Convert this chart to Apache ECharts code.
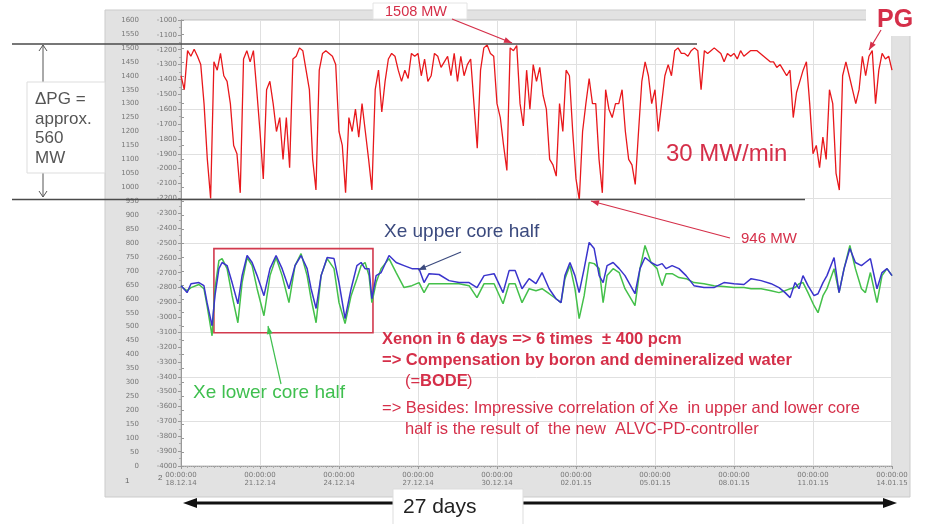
<!DOCTYPE html>
<html><head><meta charset="utf-8">
<script src="https://cdn.jsdelivr.net/npm/echarts@6/dist/echarts.min.js"></script>
<style>html,body{margin:0;padding:0;background:#fff}#c{width:932px;height:524px}</style>
</head><body><div id="c"></div>
<script>
// ---- data ----
const xTickLabels = ['00:00:00\n18.12.14','00:00:00\n21.12.14','00:00:00\n24.12.14','00:00:00\n27.12.14','00:00:00\n30.12.14','00:00:00\n02.01.15','00:00:00\n05.01.15','00:00:00\n08.01.15','00:00:00\n11.01.15','00:00:00\n14.01.15'];
const pgStepDays = 0.125; // one PG sample every 3 h
const pgMW = [
1400,1350,1490,1470,1495,1470,1440,1300,1100,960,
1450,1420,1480,1400,1380,1300,1150,1120,980,1460,
1490,1450,1490,1350,1200,1030,1350,1380,1300,1200,
1250,1100,1250,1070,1460,1470,1500,1490,1420,1350,
1100,990,1420,1480,1490,1480,1470,1440,1200,1150,
980,1250,1200,1280,1180,1300,1200,1100,990,1350,
1420,1270,1380,1460,1480,1470,1420,1380,1420,1390,
1480,1470,1480,1400,1460,1380,1400,1480,1470,1430,
1450,1470,1400,1480,1380,1470,1400,1440,1460,1300,
1140,1420,1500,1510,1480,1470,1300,1250,1150,1060,
1500,1490,1508,1300,1220,1420,1280,1440,1380,1430,
1330,1280,1100,1080,1040,1300,1200,1420,1400,1200,
1030,955,1200,1300,1390,1300,1300,1100,980,1350,
1280,1250,1300,1300,1350,1200,1100,1080,1010,1200,
1380,1450,1400,1300,1350,1200,1300,1400,1440,1400,
1490,1500,1480,1480,1470,1490,1500,1490,1350,1490,
1480,1490,1500,1490,1480,1450,1480,1470,1480,1460,
1490,1470,1480,1490,1490,1490,1480,1470,1460,1450,
1450,1430,1440,1420,1400,1420,1250,1340,1380,1420,
1450,1300,1120,1150,1070,1180,1100,1350,1300,1050,
990,1400,1450,1400,1350,1300,1350,1470,1400,1470,
1490,1300,1420,1480,1460,1470,1420];
const xeDays = [0,0.11,0.23,0.38,0.68,0.87,0.99,1.18,1.29,1.44,1.56,1.75,1.94,2.16,2.32,2.51,2.70,2.89,3.15,3.38,3.61,3.84,4.10,4.33,4.56,4.79,4.94,5.13,5.32,5.55,5.81,6.00,6.23,6.46,6.68,6.84,6.99,7.14,7.25,7.41,7.60,7.90,8.17,8.47,8.77,9.04,9.23,9.42,9.80,10.18,10.56,10.94,11.24,11.51,11.89,12.23,12.46,12.69,12.95,13.22,13.48,13.71,13.98,14.24,14.43,14.58,14.77,14.96,15.12,15.31,15.50,15.69,15.88,16.03,16.18,16.41,16.64,16.86,17.24,17.43,17.62,17.85,18.08,18.15,18.27,18.42,18.65,18.91,19.18,19.48,19.86,20.24,20.62,21.00,21.38,21.65,22.03,22.41,22.71,22.94,23.13,23.32,23.47,23.62,23.81,24.04,24.19,24.38,24.53,24.80,24.99,25.18,25.40,25.61,25.84,25.99,26.18,26.43,26.62,26.81,27.00];
const xeUpper = [647,636,622,654,658,647,586,503,611,708,730,719,658,582,683,755,730,683,611,708,755,708,636,719,755,708,636,565,683,748,744,658,529,636,719,730,708,708,600,683,694,755,730,719,708,708,658,690,687,665,658,658,640,683,690,622,701,701,636,672,654,694,636,600,586,683,730,683,622,708,802,780,683,658,719,730,708,683,618,708,748,730,719,719,726,708,719,708,683,647,640,640,658,654,651,672,665,654,640,622,604,658,636,683,647,611,618,658,683,748,622,708,780,730,719,730,744,636,694,708,683];
const xeLower = [647,636,629,640,651,636,575,467,636,737,744,708,611,514,658,748,719,636,539,683,748,683,586,719,762,683,600,514,683,744,708,586,511,611,672,719,730,683,586,658,708,744,694,640,647,658,622,654,654,654,654,647,604,654,654,582,654,654,586,636,629,636,618,600,586,672,719,636,529,611,730,726,708,586,683,708,694,636,575,708,791,730,708,683,647,690,690,676,672,658,654,647,644,640,640,636,636,629,622,629,636,640,654,658,622,575,550,611,636,708,622,708,791,708,636,622,694,586,683,708,683];
const boxDays = [1.25, 7.29];
const boxValues = [780, 478];

// ---- chart ----
const chart = echarts.init(document.getElementById('c'), null, {renderer: 'canvas'});
const FONT = '"Liberation Sans", Arial, sans-serif';
const RED = '#d52f49';
function head(x1, y1, x2, y2, len, wid, color) {
  const a = Math.atan2(y2 - y1, x2 - x1);
  const bx = x2 - len * Math.cos(a), by = y2 - len * Math.sin(a);
  const px = -Math.sin(a) * wid / 2, py = Math.cos(a) * wid / 2;
  return {type: 'polygon', z: 100, shape: {points: [[x2, y2], [bx + px, by + py], [bx - px, by - py]]}, style: {fill: color}};
}
function arrow(x1, y1, x2, y2, color, lw, len, wid) {
  return [{type: 'line', z: 100, shape: {x1: x1, y1: y1, x2: x2, y2: y2}, style: {stroke: color, lineWidth: lw}}, head(x1, y1, x2, y2, len, wid, color)];
}
function txt(text, x, y, fill, size, weight, align) {
  return {type: 'text', z: 101, style: {text: text, x: x, y: y, fill: fill, font: (weight || 'normal') + ' ' + size + 'px ' + FONT, align: align || 'left', verticalAlign: 'middle'}};
}
function rect(x, y, w, h, fill, stroke, z) {
  return {type: 'rect', z: z, shape: {x: x, y: y, width: w, height: h}, style: {fill: fill, stroke: stroke || null, lineWidth: 1}};
}

const graphics = [].concat(
  [rect(105, 10, 805, 487, '#e2e2e2', '#cbcbcb', -5)],
  [rect(373, 3, 94, 16, '#ffffff', '#e4e4e4', 50)],
  [rect(866, 3, 60, 33, '#ffffff', null, 50)],
  // horizontal reference lines
  [{type: 'line', z: 99, shape: {x1: 12, y1: 44, x2: 697, y2: 44}, style: {stroke: '#4a4a4a', lineWidth: 1.5}},
   {type: 'line', z: 99, shape: {x1: 12, y1: 199.5, x2: 805, y2: 199.5}, style: {stroke: '#4a4a4a', lineWidth: 1.5}}],
  // delta PG arrow
  [{type: 'line', z: 100, shape: {x1: 43, y1: 45, x2: 43, y2: 84}, style: {stroke: '#555', lineWidth: 1}},
   {type: 'polyline', z: 100, shape: {points: [[39, 51], [43, 45], [47, 51]]}, style: {stroke: '#555', lineWidth: 1, fill: null}},
   {type: 'line', z: 100, shape: {x1: 43, y1: 170, x2: 43, y2: 197}, style: {stroke: '#555', lineWidth: 1}},
   {type: 'polyline', z: 100, shape: {points: [[39, 191], [43, 197], [47, 191]]}, style: {stroke: '#555', lineWidth: 1, fill: null}}],
  [rect(27, 82, 78, 91, '#ffffff', '#dddddd', 100)],
  [{type: 'text', z: 101, style: {text: '\u0394PG =\napprox.\n560\nMW', x: 35, y: 90, fill: '#555', font: '17px ' + FONT, lineHeight: 19.5, verticalAlign: 'top'}}],
  // arrows
  arrow(452, 19, 512, 43, RED, 1.2, 8, 6),
  arrow(881, 30, 869, 50, RED, 1.2, 8, 6),
  arrow(730, 238, 591, 201, RED, 1.2, 8, 6),
  arrow(461, 252, 418, 270, '#3b4a7e', 1.2, 8, 6),
  arrow(281, 384, 268, 326, '#3fbf4f', 1.2, 8, 6),
  // bottom 27 days arrow
  [{type: 'line', z: 100, shape: {x1: 192, y1: 503, x2: 888, y2: 503}, style: {stroke: '#111', lineWidth: 3}},
   head(888, 503, 183, 503, 14, 10, '#111'), head(183, 503, 897, 503, 14, 10, '#111')],
  [rect(393, 489, 130, 40, '#ffffff', '#dddddd', 100)],
  // texts
  [txt('1508 MW', 385, 12, RED, 14.5),
   txt('PG', 877, 20, RED, 25, 'bold'),
   txt('30 MW/min', 666, 154, RED, 24),
   txt('946 MW', 741, 239, RED, 15),
   txt('Xe upper core half', 384, 232, '#3b4a7e', 19),
   txt('Xe lower core half', 193, 393, '#3fbf4f', 19),
   txt('Xenon in 6 days => 6 times  \u00b1 400 pcm', 382, 339, RED, 16.5, 'bold'),
   txt('=> Compensation by boron and demineralized water', 382, 360, RED, 16.5, 'bold'),
   txt('(=', 405, 381, RED, 16.5),
   txt('BODE', 420, 381, RED, 16.5, 'bold'),
   txt(')', 467, 381, RED, 16.5),
   txt('=> Besides: Impressive correlation of Xe  in upper and lower core', 382, 408, RED, 16.5),
   txt('half is the result of  the new  ALVC-PD-controller', 405, 429, RED, 16.5),
   txt('27 days', 403, 507, '#222', 21),
   txt('1', 125, 481, '#666', 8),
   txt('2', 158, 478, '#666', 8)]
);

const axisLabelStyle = {fontSize: 7, color: '#777', fontFamily: '"DejaVu Sans", sans-serif'};
const plainNum = function (v) { return String(v); };

chart.setOption({
  animation: false,
  grid: {left: 181, right: 40, top: 20, bottom: 58, show: true, backgroundColor: '#ffffff', borderColor: '#bdbdbd', borderWidth: 1},
  xAxis: {
    type: 'value', min: 0, max: 27, interval: 3,
    axisLine: {lineStyle: {color: '#999', type: 'dotted'}},
    axisTick: {length: 3, lineStyle: {color: '#999'}},
    minorTick: {show: true, splitNumber: 12, length: 2, lineStyle: {color: '#aaa'}},
    axisLabel: Object.assign({formatter: function (v) { return xTickLabels[Math.round(v / 3)]; }, lineHeight: 8, margin: 5}, axisLabelStyle),
    splitLine: {show: true, lineStyle: {color: '#e0e0e0'}},
    minorSplitLine: {show: false}
  },
  yAxis: [
    {type: 'value', min: 0, max: 1600, interval: 50, position: 'left', offset: 40,
     axisLine: {show: false}, axisTick: {show: true, inside: true, length: 3, lineStyle: {color: '#999'}},
     axisLabel: Object.assign({margin: 2, formatter: plainNum}, axisLabelStyle), splitLine: {show: false}},
    {type: 'value', min: -4000, max: -1000, interval: 100, position: 'left', offset: 0,
     axisLine: {show: true, lineStyle: {color: '#999'}}, axisTick: {length: 3, lineStyle: {color: '#999'}},
     minorTick: {show: true, splitNumber: 2, length: 2, lineStyle: {color: '#aaa'}},
     axisLabel: Object.assign({margin: 4, formatter: plainNum}, axisLabelStyle), splitLine: {show: false}},
    {type: 'value', min: 0, max: 10, interval: 1, position: 'right',
     axisLine: {show: false}, axisTick: {show: false}, axisLabel: {show: false},
     splitLine: {show: true, lineStyle: {color: '#e0e0e0'}}}
  ],
  series: [
    {name: 'PG', type: 'line', yAxisIndex: 0, symbol: 'none', z: 3,
     lineStyle: {color: '#e8181c', width: 1.3},
     data: pgMW.map(function (v, i) { return [i * pgStepDays, v]; })},
    {name: 'Xe lower core half', type: 'line', yAxisIndex: 0, symbol: 'none', z: 4,
     lineStyle: {color: '#44c04a', width: 1.5},
     data: xeDays.map(function (d, i) { return [d, xeLower[i]]; })},
    {name: 'Xe upper core half', type: 'line', yAxisIndex: 0, symbol: 'none', z: 5,
     lineStyle: {color: '#3a34cc', width: 1.5},
     data: xeDays.map(function (d, i) { return [d, xeUpper[i]]; }),
     markArea: {silent: true, itemStyle: {color: 'rgba(0,0,0,0)', borderColor: '#d23a4e', borderWidth: 1.6},
       data: [[{coord: [boxDays[0], boxValues[0]]}, {coord: [boxDays[1], boxValues[1]]}]]}}
  ],
  graphic: graphics
});
</script></body></html>
